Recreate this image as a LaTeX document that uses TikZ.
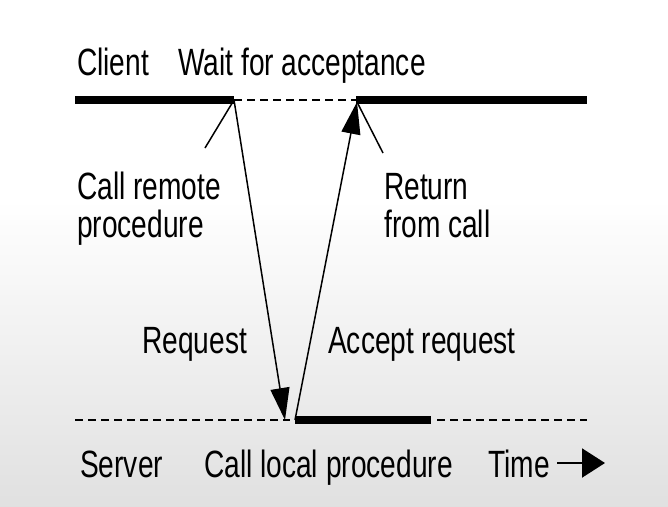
\documentclass[tikz,border=0pt]{standalone}
\usepackage{fontspec}
\setmainfont{Liberation Sans}[FakeStretch=0.74]
\usetikzlibrary{arrows.meta}

\begin{document}
\begin{tikzpicture}[x=1pt, y=-1pt,
                    lbl/.style={font=\fontsize{38}{38}\selectfont, inner sep=0pt, anchor=base west, align=left},
                    bar/.style={line width=8pt},
                    idle/.style={line width=2pt, dash pattern=on 8pt off 5pt},
                    msg/.style={line width=1.5pt, -{Triangle[length=32pt, width=19pt]}},
                    tick/.style={line width=1.5pt}]
                    % background
                    \fill[white] (0,0) rectangle (668,200);
                    \shade[top color=white, bottom color=black!12] (0,200) rectangle (668,506);
                    \useasboundingbox (0,0) rectangle (668,506);
                    % time lines
                    \coordinate (c0) at (75,100);
                    \coordinate (c1) at (234,100);
                    \coordinate (c2) at (356,100);
                    \coordinate (c3) at (587,100);
                    \coordinate (s0) at (75,420);
                    \coordinate (s1) at (290,420);
                    \coordinate (s2) at (295,420);
                    \coordinate (s3) at (431,420);
                    \coordinate (s4) at (587,420);
                    \draw[bar] (c0) -- (c1);
                    \draw[idle] (c1) -- (c2);
                    \draw[bar] (c2) -- (c3);
                    \draw[idle] (s0) -- (s1);
                    \draw[bar] (s2) -- (s3);
                    \draw[idle] ([xshift=6pt]s3) -- (s4);
                    % messages
                    \draw[msg] (c1) -- (285,420);
                    \draw[msg] (s2) -- (357,102);
                    % labels
                    \node[lbl] (client) at (77,75) {Client};
                    \node[lbl] (wait) at (178,75) {Wait for acceptance};
                    \node[lbl] (call) at (77,237) {Call remote\\procedure};
                    \node[lbl] (ret) at (384,237) {Return\\from call};
                    \node[lbl] (req) at (142,353) {Request};
                    \node[lbl] (acc) at (328,353) {Accept request};
                    \node[lbl] (server) at (80,477) {Server};
                    \node[lbl] (local) at (204,477) {Call local procedure};
                    \node[lbl] (time) at (488,477) {Time};
                    % pointers
                    \coordinate (p1) at (205,148);
                    \coordinate (p2) at (383,153);
                    \draw[tick] (c1) -- (p1);
                    \draw[tick] (357,102) -- (p2);
                    \coordinate (t0) at (557,463);
                    \coordinate (t1) at (605,463);
                    \draw[line width=2pt, -{Triangle[length=23pt, width=29pt]}] (t0) -- (t1);
                \end{tikzpicture}
\end{document}
